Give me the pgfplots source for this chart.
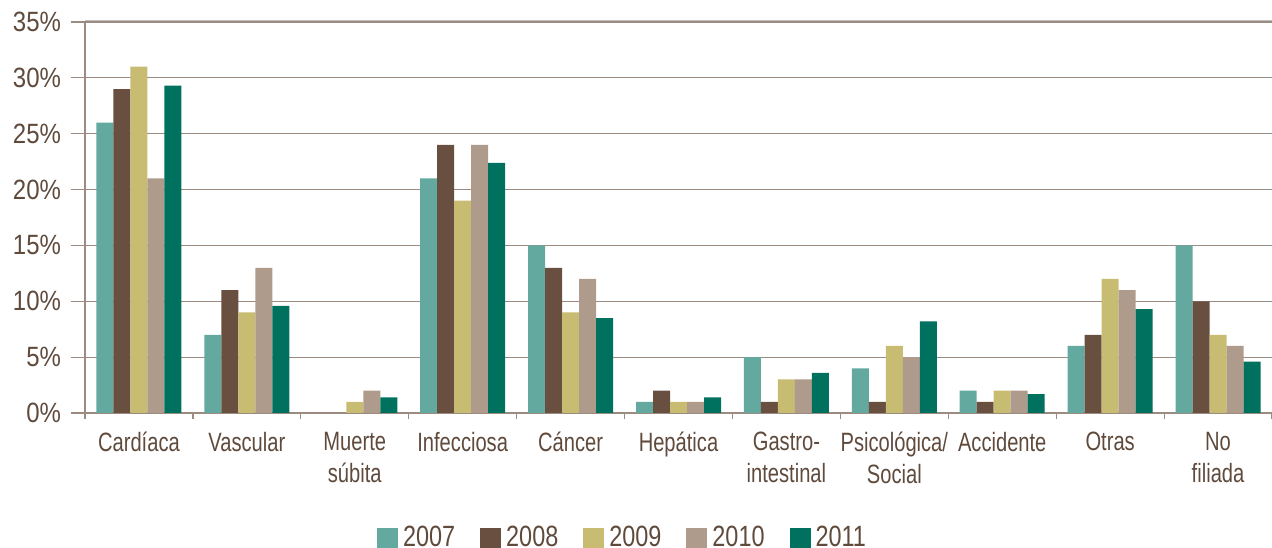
\documentclass[border=0pt]{standalone}
\usepackage{pgfplots}
\pgfplotsset{compat=1.18}
\usepackage{fontspec}
\setmainfont{Liberation Sans}[FakeStretch=0.76]
\newfontfamily\numfont{Liberation Sans}[FakeStretch=0.86]
\newfontfamily\legfont{Liberation Sans}[FakeStretch=0.80]
\usetikzlibrary{calc}
\definecolor{c07}{HTML}{63A9A0}
\definecolor{c08}{HTML}{684F3F}
\definecolor{c09}{HTML}{C8BB72}
\definecolor{c10}{HTML}{AF9B8B}
\definecolor{c11}{HTML}{00715E}
\definecolor{txt}{HTML}{5F4A3C}
\definecolor{gridc}{HTML}{9C8B80}
\pgfplotstableread{
x a07 a08 a09 a10 a11
0 26 29 31 21 29.3
1 7 11 9 13 9.6
2 0 0 1 2 1.4
3 21 24 19 24 22.4
4 15 13 9 12 8.5
5 1 2 1 1 1.4
6 5 1 3 3 3.6
7 4 1 6 5 8.2
8 2 1 2 2 1.7
9 6 7 12 11 9.3
10 15 10 7 6 4.6
}\data
\begin{document}
\begin{tikzpicture}
\begin{axis}[
  scale only axis, width=593.5bp, height=195.5bp,
  xmin=-0.5, xmax=10.5, ymin=0, ymax=35,
  ybar=0pt, bar width=8.5bp,
  axis x line=bottom, axis y line=left,
  axis line style={gridc, line width=0.6bp, -},
  tick align=outside,
  major tick length=7bp, minor tick length=3bp,
  tick style={gridc, line width=0.6bp},
  ytick={0,5,...,35},
  yticklabels={0\%,5\%,10\%,15\%,20\%,25\%,30\%,35\%},
  yticklabel style={font=\numfont\fontsize{14}{16}\selectfont, text=txt, xshift=-1.5bp},
  ymajorgrids, major grid style={gridc, line width=0.6bp},
  xtick={0,...,10},
  major x tick style={draw=none},
  minor xtick={-0.5,0.5,...,10.5},
  xticklabels={Cardíaca,Vascular,Muerte\\súbita,Infecciosa,Cáncer,Hepática,Gastro-\\intestinal,Psicológica/\\Social,Accidente,Otras,No\\filiada},
  xticklabel style={align=center, text=txt, font=\fontsize{13.3}{16}\selectfont, yshift=1bp},
  legend style={at={(0.452,-0.32)}, anchor=center, legend columns=-1, draw=none,
    font=\legfont\fontsize{14.7}{16}\selectfont, text=txt,
    nodes={inner xsep=0bp},
    /tikz/every even column/.append style={column sep=12.5bp},
    /tikz/every odd column/.append style={column sep=2.5bp}},
  legend image code/.code={\path[#1, draw=none] (0bp,-5.25bp) rectangle (10.5bp,5.25bp);},
]
\addplot[fill=c07, draw=none] table[x=x, y=a07] {\data};
\addplot[fill=c08, draw=none] table[x=x, y=a08] {\data};
\addplot[fill=c09, draw=none] table[x=x, y=a09] {\data};
\addplot[fill=c10, draw=none] table[x=x, y=a10] {\data};
\addplot[fill=c11, draw=none] table[x=x, y=a11] {\data};
\legend{2007,2008,2009,2010,2011}
\coordinate (sw) at (rel axis cs:0,0);
\coordinate (ne) at (rel axis cs:1,1);
\coordinate (nw) at (rel axis cs:0,1);
\end{axis}
\draw[black!25, line width=0.6bp] ([yshift=0.9bp]nw) -- ([yshift=0.9bp]ne);
\pgfresetboundingbox
\path ($(sw)+(-42.5bp,-67.5bp)$) rectangle ($(ne)+(0,11bp)$);
\end{tikzpicture}
\end{document}
